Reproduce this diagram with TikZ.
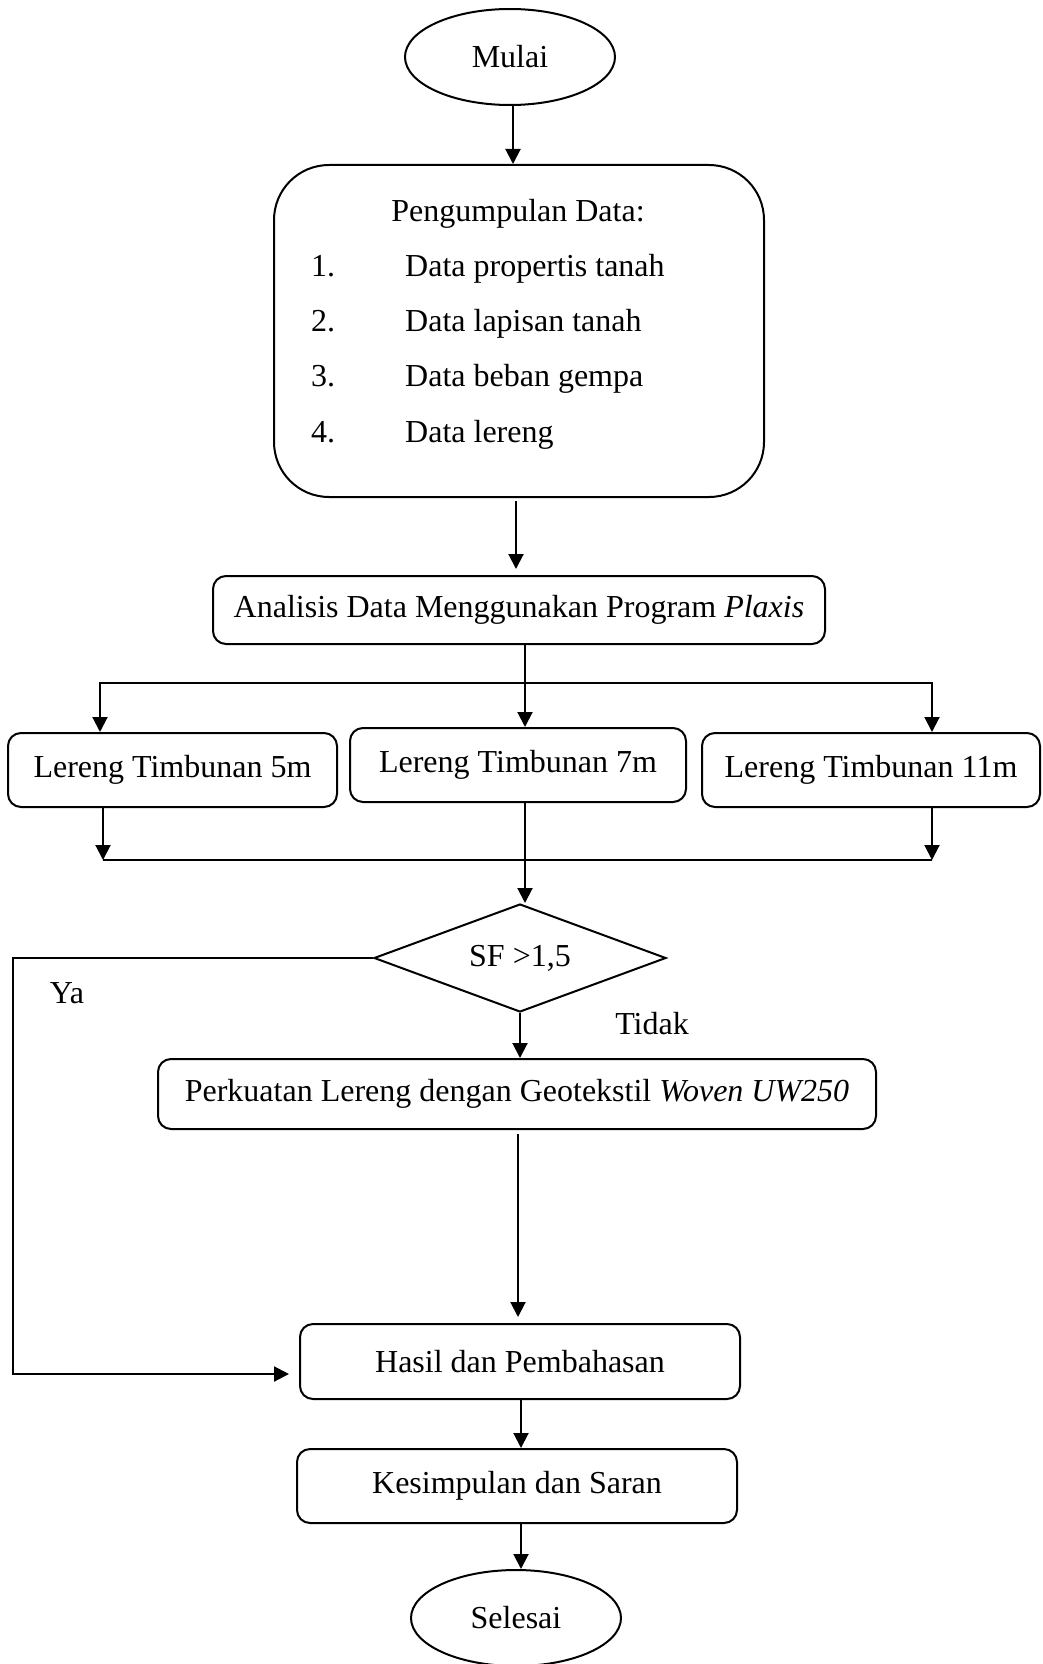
\documentclass[tikz,border=0pt]{standalone}
\usepackage{fontspec}
\setmainfont{Liberation Serif}
\usetikzlibrary{shapes.geometric,arrows.meta}
\begin{document}
\begin{tikzpicture}[x=1pt,y=-1pt,
  every node/.style={font=\fontsize{32}{38}\selectfont, inner sep=0pt},
  line/.style={line width=2pt},
  arr/.style={line width=2pt,-{Triangle[length=15pt,width=15pt]}},
  box/.style={draw, line width=2pt, rounded corners=13pt, rectangle},
  term/.style={draw, line width=2pt, ellipse, minimum width=210pt, minimum height=96pt},
  txt/.style={anchor=base}
]
\useasboundingbox (0,0) rectangle (1042,1664);

% nodes
\node[term] (mulai) at (510,57) {Mulai};
\node[box, rounded corners=55pt, minimum width=490pt, minimum height=332pt] (peng) at (519,331) {};
\node[txt] (pt) at (518,221) {Pengumpulan Data:};
\node[anchor=base west] (n1) at (311,276) {1.};
\node[anchor=base west] (n2) at (311,331) {2.};
\node[anchor=base west] (n3) at (311,386) {3.};
\node[anchor=base west] (n4) at (311,442) {4.};
\node[anchor=base west] (i1) at (405,276) {Data propertis tanah};
\node[anchor=base west] (i2) at (405,331) {Data lapisan tanah};
\node[anchor=base west] (i3) at (405,386) {Data beban gempa};
\node[anchor=base west] (i4) at (405,442) {Data lereng};

\node[box, minimum width=612pt, minimum height=68pt] (ana) at (519,610) {Analisis Data Menggunakan Program \textit{Plaxis}};
\node[box, minimum width=329pt, minimum height=74pt] (l5) at (172.5,770) {Lereng Timbunan 5m};
\node[box, minimum width=336pt, minimum height=74pt] (l7) at (518,765) {Lereng Timbunan 7m};
\node[box, minimum width=338pt, minimum height=74pt] (l11) at (871,770) {Lereng Timbunan 11m};
\node[draw, line width=2pt, diamond, aspect=2.7, minimum width=292pt, minimum height=108pt] (dia) at (520,958) {SF >1,5};
\node[box, minimum width=718pt, minimum height=70pt] (perk) at (517,1094) {Perkuatan Lereng dengan Geotekstil \textit{Woven UW250}};
\node[box, minimum width=440pt, minimum height=75pt] (hasil) at (520,1361.5) {Hasil dan Pembahasan};
\node[box, minimum width=440pt, minimum height=74pt] (kes) at (517,1486) {Kesimpulan dan Saran};
\node[term] (sel) at (516,1618) {Selesai};

\node[txt] (ya) at (67,1003) {Ya};
\node[txt] (tidak) at (652,1034) {Tidak};

% connectors
\draw[arr] ([xshift=3pt]mulai.south) -- ([xshift=3pt]mulai.south |- peng.north);
\draw[arr, shorten <=3pt, shorten >=6pt] ([xshift=-3pt]peng.south) -- ([xshift=-3pt]peng.south |- ana.north);
\draw[arr] ([xshift=6pt]ana.south) -- ([xshift=6pt]ana.south |- l7.north);

\coordinate (bl) at (100,683);
\coordinate (br) at (932,683);
\draw[line width=2pt, {Triangle[length=15pt,width=15pt]}-{Triangle[length=15pt,width=15pt]}]
  (bl |- l5.north) -- (bl) -- (br) -- (br |- l11.north);

\coordinate (cl) at (103,860);
\coordinate (cr) at (932,860);
\draw[arr] (l5.south -| cl) -- (cl);
\draw[arr] (l11.south -| cr) -- (cr);
\draw[line] (cl) -- (cr);
\draw[arr] ([xshift=7pt]l7.south) -- ([xshift=7pt]l7.south |- dia.north);

\draw[arr] (dia.south) -- (dia.south |- perk.north);

\coordinate (yc) at (13,1374);
\draw[arr, shorten >=10pt] (dia.west) -| (yc) -- (yc -| hasil.west);

\draw[arr, shorten <=4pt, shorten >=6pt] ([xshift=1pt]perk.south) -- ([xshift=1pt]perk.south |- hasil.north);
\draw[arr] ([xshift=1pt]hasil.south) -- ([xshift=1pt]hasil.south |- kes.north);
\draw[arr] ([xshift=4pt]kes.south) -- ([xshift=4pt]kes.south |- sel.north);
\end{tikzpicture}
\end{document}
